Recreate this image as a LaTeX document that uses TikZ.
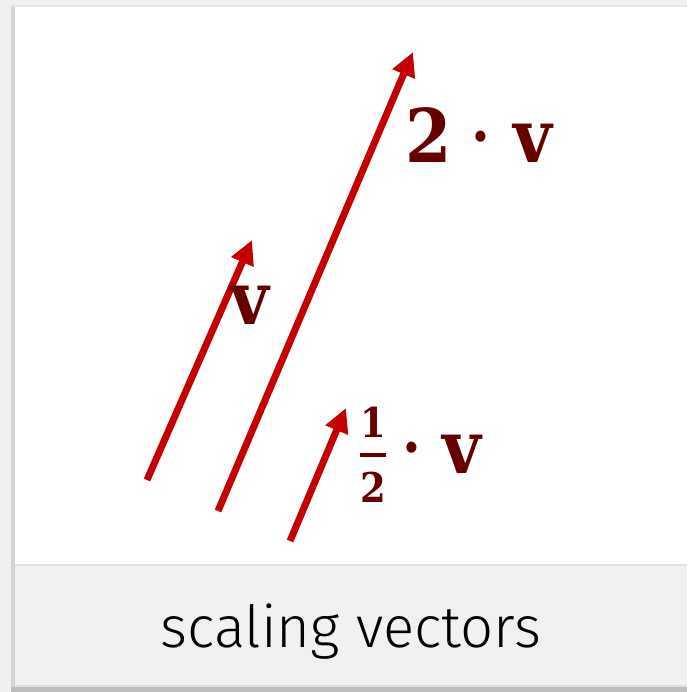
\documentclass[tikz,border=0pt]{standalone}
\usepackage{fontspec}
\setmainfont{DejaVu Serif Condensed}
\newfontfamily\footfont{Fira Sans Light}
\usetikzlibrary{arrows.meta}
\definecolor{arrred}{HTML}{C40000}
\definecolor{lblred}{HTML}{660000}
\definecolor{footgray}{HTML}{F1F1F1}
\tikzset{
  vec/.style={draw=arrred, line width=7pt, -{Triangle[length=24pt,width=23pt]}},
  lbl/.style={text=lblred, font=\fontsize{74}{74}\selectfont\bfseries, inner sep=0pt, anchor=base west},
  dotlbl/.style={text=lblred, font=\fontsize{60}{60}\selectfont\bfseries, inner sep=0pt, anchor=base},
  fraclbl/.style={text=lblred, font=\fontsize{41}{41}\selectfont\bfseries, inner sep=0pt, anchor=base},
  foot/.style={text=black, font=\footfont\fontsize{58}{58}\selectfont, inner sep=0pt, anchor=base}
}
\begin{document}
\begin{tikzpicture}[x=1pt,y=-1pt]
\useasboundingbox (0,0) rectangle (687,692);
% frame / shadow
\fill[white!94!black] (0,0) rectangle (687,692);
\fill[white!83!black] (11,5) rectangle (15,692);
\fill[white!90!black] (11,5) rectangle (687,7);
\fill[white!74!black] (11,687) rectangle (687,692);
\fill[white] (15,7) rectangle (687,565);
\fill[footgray] (15,565) rectangle (687,687);
\fill[white!88!black] (15,564) rectangle (687,566);
\fill[white!88!black] (15,685) rectangle (687,687);
% vectors
\coordinate (v0) at (147,480);
\coordinate (v1) at (252,240);
\coordinate (w0) at (218,511);
\coordinate (w1) at (413,52);
\coordinate (h0) at (290,541);
\coordinate (h1) at (346,408);
\draw[vec] (v0) -- (v1);
\draw[vec] (w0) -- (w1);
\draw[vec] (h0) -- (h1);
% labels
\node[lbl] (l2) at (405,163) {2};
\node[dotlbl] (d2) at (481,158) {·};
\node[lbl] (l2v) at (513,163) {v};
\node[lbl] (lv) at (230,324) {v};
\node[fraclbl] (fn) at (373,437) {1};
\node[fraclbl] (fd) at (373,502) {2};
\draw[lblred, line width=4pt] (360,455) -- (386,455);
\node[dotlbl] (dh) at (412,468) {·};
\node[lbl] (lhv) at (442,473) {v};
% footer
\node[foot] (cap) at (351,647) {scaling vectors};
\end{tikzpicture}
\end{document}
